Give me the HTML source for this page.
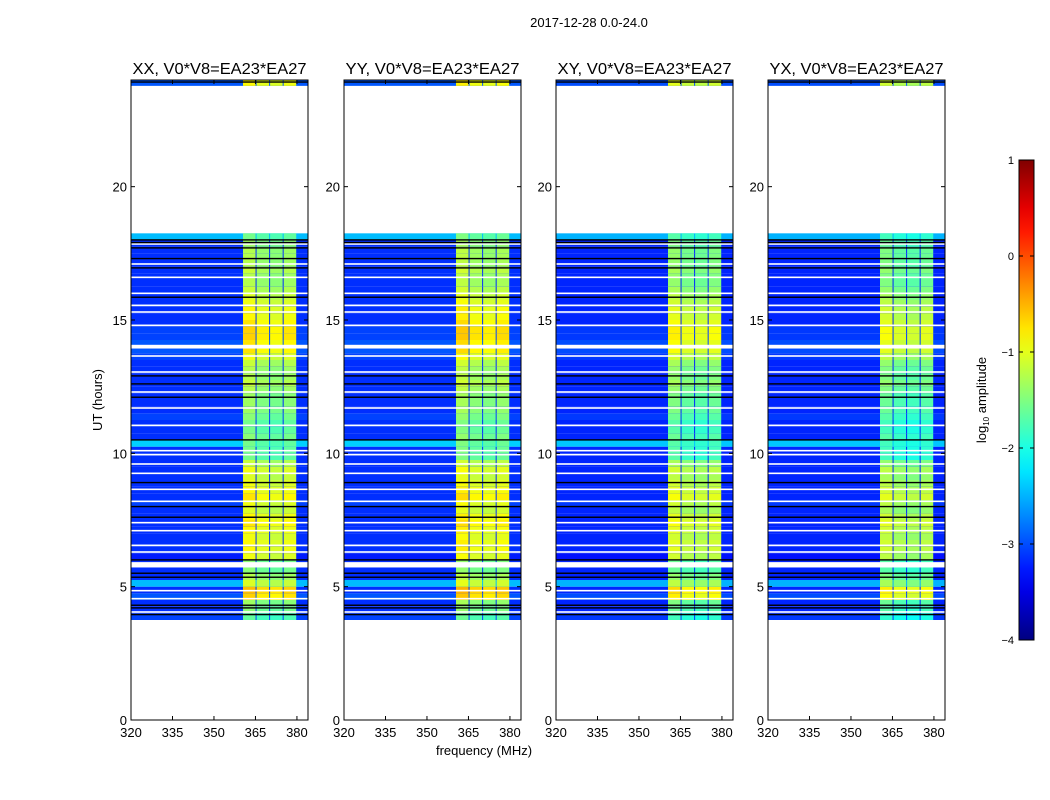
<!DOCTYPE html>
<html><head><meta charset="utf-8"><style>
body{margin:0;background:#fff;font-family:"Liberation Sans",sans-serif}
svg{display:block}
</style></head><body>
<svg id="c" width="1050" height="800" xmlns="http://www.w3.org/2000/svg" font-family="Liberation Sans, sans-serif"></svg>
<script>
// ---- data ----
const panelTitles=["XX, V0*V8=EA23*EA27","YY, V0*V8=EA23*EA27","XY, V0*V8=EA23*EA27","YX, V0*V8=EA23*EA27"];
const xTicks=[320,335,350,365,380];
const yTicks=[0,5,10,15,20];
const cbTicks=[1,0,-1,-2,-3,-4];
// time rows: 0.25h bins starting 3.75h
const rowStart=3.75, rowStep=0.25;
const rowOff=[-3.2,-3.3,-3.3,-3.1,-3.3,-2.6,-3.3,-3.3,-3.3,-3.4,-3.3,-3.3,-3.3,-3.3,-3.3,-3.3,-3.3,-3.2,-3.3,-3.3,-3.3,-3.3,-3.3,-3.3,-3.3,-3.3,-2.5,-3.3,-3.3,-3.3,-3.2,-3.3,-3.3,-3.3,-3.3,-3.3,-3.3,-3.3,-3.3,-3.2,-3.1,-3.1,-3.2,-3.2,-3.3,-3.3,-3.3,-3.3,-3.3,-3.3,-3.3,-3.3,-3.3,-3.3,-3.3,-3.3,-3.3,-2.6];
const rowBand=[-1.8,-1.6,-1.5,-0.8,-0.7,-1.2,-1.4,-1.6,-1.6,-1.1,-1.0,-1.0,-1.1,-1.0,-0.9,-1.0,-1.2,-1.1,-0.9,-1.0,-1.1,-1.2,-1.1,-1.3,-1.7,-1.7,-1.7,-1.6,-1.7,-1.7,-1.6,-1.5,-1.5,-1.5,-1.4,-1.3,-1.4,-1.4,-1.3,-1.1,-0.9,-0.9,-0.8,-0.8,-0.9,-1.0,-1.0,-1.1,-1.2,-1.3,-1.4,-1.4,-1.3,-1.4,-1.4,-1.4,-1.5,-1.7];
const panelBandOff=[0,0.05,-0.15,-0.25];
const panelOffOff=[0.15,0.15,0.1,0.1];
const subBandEdges=[360.5,365.4,370.3,375.2,380.1];
const subBandOff=[0.15,0,-0.05,0.05];
const whiteLines=[4.05,4.55,4.85,6.3,6.55,7.1,7.4,8.2,8.65,9.25,9.6,9.95,10.1,11.05,11.7,12.3,13.05,13.65,14.8,15.3,15.55,16.0,16.6,17.1,17.85];
const wideWhite=[[5.72,5.92],[13.93,14.07]];
const blackLines=[3.95,4.2,4.3,5.35,5.5,6.0,7.6,8.0,8.9,10.5,12.1,12.6,12.9,15.85,16.95,17.3,17.7,17.9,18.0,23.92];
const topStrip=[23.78,24.0];
// ---- layout ----
const panelX=[131,344,556,768], PW=177, PT=80, PB=720;
const fmin=320,fmax=384,tmin=0,tmax=24;
const NS="http://www.w3.org/2000/svg", svg=document.getElementById('c');
function el(t,a,p){const e=document.createElementNS(NS,t);for(const k in a)e.setAttribute(k,a[k]);(p||svg).appendChild(e);return e;}
function jet(v){let t=(v+4)/5;t=Math.max(0,Math.min(1,t));
 const r=Math.min(1,Math.max(0,1.5-Math.abs(4*t-3))),g=Math.min(1,Math.max(0,1.5-Math.abs(4*t-2))),b=Math.min(1,Math.max(0,1.5-Math.abs(4*t-1)));
 return `rgb(${Math.round(r*255)},${Math.round(g*255)},${Math.round(b*255)})`;}
function yS(h){return PB-(h-tmin)/(tmax-tmin)*(PB-PT);}
el('text',{x:589,y:27,'font-size':13,'text-anchor':'middle',}).textContent="2017-12-28 0.0-24.0";
panelX.forEach((x0,p)=>{
 const xS=f=>x0+(f-fmin)/(fmax-fmin)*PW;
 const g=el('g',{});
 
 
 function rowRects(h0,h1,off,band){
  const c=el('rect',{x:x0,y:yS(h1),width:PW,height:yS(h0)-yS(h1),fill:jet(off+panelOffOff[p])},g);
  
  for(let s=0;s<4;s++){
   const r=el('rect',{x:xS(subBandEdges[s]),y:yS(h1),width:xS(subBandEdges[s+1])-xS(subBandEdges[s])-1,height:yS(h0)-yS(h1),fill:jet(band+panelBandOff[p]+subBandOff[s])},g);
   
  }
 }
 rowOff.forEach((v,i)=>{const h0=rowStart+i*rowStep;rowRects(h0,h0+rowStep,v,rowBand[i]);});
 rowRects(topStrip[0],topStrip[1],-3.1,-1.0);
 whiteLines.forEach(h=>{el('rect',{x:x0,y:yS(h+0.03),width:PW,height:1.6,fill:'#fff'},g);});
 wideWhite.forEach(w=>{el('rect',{x:x0,y:yS(w[1]),width:PW,height:yS(w[0])-yS(w[1]),fill:'#fff'},g);});
 blackLines.forEach(h=>{el('rect',{x:x0,y:yS(h+0.03),width:PW,height:1.4,fill:'#000'},g);});
 el('rect',{x:x0,y:PT,width:PW,height:PB-PT,fill:'none',stroke:'#000','stroke-width':1},g);
 const t=el('text',{x:x0+PW/2,y:74,'font-size':16,'text-anchor':'middle',textLength:174,lengthAdjust:'spacingAndGlyphs'},g);
 t.textContent=panelTitles[p];
 xTicks.forEach(f=>{const x=xS(f);
  el('line',{x1:x,x2:x,y1:PB,y2:PB-4,stroke:'#000'},g);el('line',{x1:x,x2:x,y1:PT,y2:PT+4,stroke:'#000'},g);
  const l=el('text',{x:x,y:PB+17,'font-size':13,'text-anchor':'middle'},g);
  l.textContent=f;});
 yTicks.forEach(h=>{const y=yS(h);
  el('line',{x1:x0,x2:x0+4,y1:y,y2:y,stroke:'#000'},g);el('line',{x1:x0+PW,x2:x0+PW-4,y1:y,y2:y,stroke:'#000'},g);
  const l=el('text',{x:x0-4,y:y+5,'font-size':13,'text-anchor':'end'},g);
  l.textContent=h;});
});
const yl=el('text',{x:0,y:0,'font-size':13,'text-anchor':'middle',transform:'translate(102,400) rotate(-90)'});
yl.textContent="UT (hours)";
const xl=el('text',{x:484,y:755,'font-size':13,'text-anchor':'middle'});
xl.textContent="frequency (MHz)";
// colorbar
const defs=el('defs',{});const lg=el('linearGradient',{id:'jg',x1:0,y1:1,x2:0,y2:0},defs);
for(let i=0;i<=20;i++){el('stop',{offset:i/20,'stop-color':jet(-4+5*i/20)},lg);}
const cb=el('rect',{x:1019,y:160,width:15,height:480,fill:'url(#jg)',stroke:'#000'});

cbTicks.forEach(v=>{const y=640-(v+4)/5*480;
 el('line',{x1:1019,x2:1023,y1:y,y2:y,stroke:'#000'});el('line',{x1:1034,x2:1030,y1:y,y2:y,stroke:'#000'});
 const l=el('text',{x:1014,y:y+4,'font-size':11,'text-anchor':'end'});
 l.textContent=v<0?'\u2212'+(-v):v;});
const cl=el('text',{x:0,y:0,'font-size':13,'text-anchor':'middle',transform:'translate(986,400) rotate(-90)'});

cl.innerHTML='log<tspan font-size="8" dy="3">10</tspan><tspan dy="-3"> amplitude</tspan>';
</script>
</body></html>
